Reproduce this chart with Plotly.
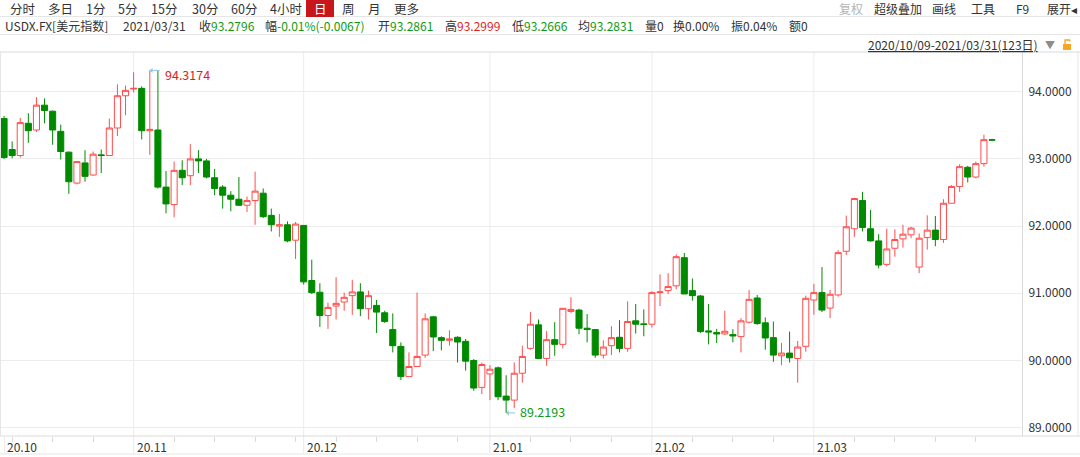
import plotly.graph_objects as go
import pandas as pd

# ---------------- data ----------------
dates = pd.bdate_range("2020-10-09", "2021-03-31")
dates = dates[dates != pd.Timestamp("2021-01-01")]  # 123 trading days

opens = [93.60, 93.14, 93.05, 93.53, 93.43, 93.80, 93.71, 93.41, 93.10, 92.64,
         92.94, 92.76, 93.06, 93.05, 93.46, 93.94, 94.04, 94.05, 93.42, 93.43,
         92.58, 92.32, 92.83, 92.75, 93.00, 92.97, 92.72, 92.58, 92.46, 92.40,
         92.31, 92.38, 92.49, 92.16, 92.00, 92.02, 91.79, 92.01, 91.19, 91.015,
         90.67, 90.81, 90.87, 90.965, 91.02, 90.77, 90.82, 90.71, 90.46, 90.21,
         89.76, 89.91, 90.08, 90.65, 90.34, 90.30, 90.345, 90.285, 90.00, 89.60,
         89.80, 89.89, 89.47, 89.41, 89.81, 90.18, 90.53, 90.03, 90.31, 90.24,
         90.73, 90.75, 90.48, 90.46, 90.08, 90.22, 90.345, 90.18, 90.59, 90.545,
         90.54, 91.01, 91.04, 91.11, 91.53, 91.04, 90.96, 90.44, 90.415, 90.395,
         90.385, 90.355, 90.57, 90.93, 90.56, 90.34, 90.07, 90.11, 90.03, 90.21,
         90.90, 91.01, 90.78, 90.975, 91.625, 91.96, 92.38, 91.96, 91.78, 91.43,
         91.67, 91.81, 91.87, 91.39, 91.83, 91.94, 91.80, 92.34, 92.59, 92.875,
         92.73, 92.93, 93.2861]
highs = [93.64, 93.26, 93.61, 93.68, 93.92, 93.90, 93.72, 93.51, 93.11, 92.97,
         93.13, 93.11, 93.14, 93.60, 94.11, 94.09, 94.29, 94.08, 94.3174, 94.31,
         92.82, 92.96, 92.98, 93.22, 93.13, 93.00, 92.85, 92.61, 92.52, 92.73,
         92.44, 92.81, 92.56, 92.26, 92.18, 92.07, 92.06, 92.01, 91.50, 91.15,
         90.86, 91.24, 91.01, 91.20, 91.15, 91.04, 90.90, 90.74, 90.70, 90.27,
         90.12, 91.01, 90.70, 90.66, 90.36, 90.45, 90.36, 90.32, 90.02, 89.97,
         89.93, 89.91, 89.78, 89.97, 90.22, 90.72, 90.61, 90.44, 90.57, 90.78,
         90.94, 90.77, 90.69, 90.465, 90.30, 90.51, 90.60, 90.88, 90.84, 90.76,
         91.03, 91.28, 91.30, 91.58, 91.60, 91.22, 90.975, 90.84, 90.47, 90.74,
         90.465, 90.63, 91.05, 90.975, 90.64, 90.58, 90.26, 90.43, 90.29, 90.965,
         91.14, 91.39, 91.05, 91.64, 92.155, 92.42, 92.51, 92.24, 91.88, 91.96,
         91.95, 92.02, 91.99, 91.89, 92.16, 92.15, 92.40, 92.61, 92.92, 92.895,
         92.96, 93.36, 93.2999]
lows = [93.00, 93.01, 93.02, 93.24, 93.40, 93.53, 93.21, 92.99, 92.48, 92.62,
        92.66, 92.75, 92.79, 93.05, 93.34, 93.65, 93.99, 93.29, 93.06, 92.56,
        92.19, 92.13, 92.61, 92.61, 92.79, 92.71, 92.46, 92.26, 92.22, 92.30,
        92.21, 92.02, 92.12, 91.92, 91.84, 91.76, 91.51, 91.13, 90.99, 90.50,
        90.47, 90.61, 90.74, 90.68, 90.66, 90.61, 90.41, 90.56, 90.12, 89.71,
        89.76, 89.91, 90.04, 90.14, 90.15, 90.22, 89.97, 89.85, 89.55, 89.50,
        89.41, 89.41, 89.2193, 89.29, 89.67, 90.16, 90.02, 89.92, 90.07, 90.18,
        90.71, 90.39, 90.27, 90.04, 90.03, 90.08, 90.12, 90.13, 90.40, 90.36,
        90.49, 90.81, 90.99, 91.06, 90.99, 90.89, 90.41, 90.24, 90.26, 90.38,
        90.27, 90.12, 90.55, 90.53, 90.16, 89.98, 89.93, 89.97, 89.67, 90.13,
        90.68, 90.72, 90.63, 90.95, 91.57, 91.84, 91.92, 91.77, 91.37, 91.40,
        91.545, 91.68, 91.82, 91.30, 91.65, 91.70, 91.75, 92.34, 92.51, 92.65,
        92.71, 92.885, 93.2666]
closes = [93.02, 93.05, 93.54, 93.42, 93.80, 93.72, 93.43, 93.11, 92.66, 92.96,
          92.74, 93.07, 93.05, 93.46, 93.94, 94.02, 94.05, 93.42, 93.44, 92.58,
          92.33, 92.83, 92.72, 93.00, 92.97, 92.73, 92.56, 92.46, 92.40, 92.31,
          92.38, 92.52, 92.14, 92.02, 92.02, 91.78, 92.03, 91.17, 91.01, 90.67,
          90.79, 90.85, 90.94, 91.02, 90.77, 90.965, 90.72, 90.58, 90.22, 89.76,
          89.91, 90.06, 90.62, 90.35, 90.30, 90.32, 90.275, 89.99, 89.59, 89.94,
          89.87, 89.46, 89.41, 89.81, 90.06, 90.54, 90.03, 90.31, 90.24, 90.776,
          90.76, 90.48, 90.46, 90.08, 90.20, 90.34, 90.18, 90.58, 90.54, 90.535,
          91.01, 91.02, 91.10, 91.545, 90.99, 90.965, 90.43, 90.425, 90.395, 90.435,
          90.365, 90.59, 90.91, 90.55, 90.335, 90.08, 90.11, 90.04, 90.20, 90.925,
          91.01, 90.75, 90.985, 91.605, 91.99, 92.41, 91.98, 91.78, 91.42, 91.66,
          91.80, 91.88, 91.97, 91.82, 91.94, 91.80, 92.34, 92.59, 92.885, 92.73,
          92.93, 93.2863, 93.2796]

y_ticks = [89, 90, 91, 92, 93, 94]
y_tick_labels = ["89.0000", "90.0000", "91.0000", "92.0000", "93.0000", "94.0000"]
month_labels = ["20.10", "20.11", "20.12", "21.01", "21.02", "21.03"]

# --------------- derived ---------------
idx = list(range(len(dates)))
month_start = []
prev = None
for i, d in enumerate(dates):
    key = (d.year, d.month)
    if key != prev:
        month_start.append(i)
        prev = key
mondays = [i for i, d in enumerate(dates) if d.weekday() == 0 and i not in month_start]
hi_i = highs.index(max(highs))
lo_i = lows.index(min(lows))

RED = "#ff4d4d"
GREEN = "#008a00"
FONT = "Noto Sans CJK SC, Microsoft YaHei, sans-serif"
GRID = "#ececec"
LINE = "#dadada"

W, H = 1080, 457
L_M, R_M, T_M, B_M = 0, 58, 52, 21
PW = W - L_M - R_M
PH = H - T_M - B_M


def px(x):
    return (x - L_M) / PW


def py(y):
    return (H - B_M - y) / PH


fig = go.Figure(go.Candlestick(
    x=idx, open=opens, high=highs, low=lows, close=closes,
    increasing=dict(line=dict(color=RED, width=1), fillcolor="white"),
    decreasing=dict(line=dict(color=GREEN, width=1), fillcolor=GREEN),
    whiskerwidth=0, hoverinfo="skip", showlegend=False,
))

shapes = []
# month gridlines (extend into the label strip)
for m in month_start[1:]:
    shapes.append(dict(type="line", xref="x", yref="paper", x0=m, x1=m,
                       y0=py(453), y1=1, line=dict(color=GRID, width=1), layer="below"))
# horizontal separators
for yy, c in [(16.5, "#e6e6e6"), (34.5, "#e6e6e6"), (52, LINE), (436, LINE), (454, "#e6e6e6")]:
    shapes.append(dict(type="line", xref="paper", yref="paper", x0=0, x1=px(W),
                       y0=py(yy), y1=py(yy), line=dict(color=c, width=1)))
# left border and scroll edge
shapes.append(dict(type="line", xref="paper", yref="paper", x0=px(0.5), x1=px(0.5),
                   y0=0, y1=1, line=dict(color="#e6e6e6", width=1)))
shapes.append(dict(type="line", xref="paper", yref="paper", x0=px(1078), x1=px(1078),
                   y0=0, y1=1, line=dict(color="#e6e6e6", width=1)))
# selected "日" tab
shapes.append(dict(type="rect", xref="paper", yref="paper", x0=px(306), x1=px(334),
                   y0=py(17), y1=py(0), fillcolor="#c8161d", line=dict(width=0)))
# lock icon
shapes.append(dict(type="rect", xref="paper", yref="paper", x0=px(1063), x1=px(1071),
                   y0=py(50), y1=py(44), fillcolor="#f5a623", line=dict(width=0)))
shapes.append(dict(type="path", xref="paper", yref="paper",
                   path=f"M {px(1065)} {py(44)} L {px(1065)} {py(40)} L {px(1069.5)} {py(40)} L {px(1070)} {py(41.5)}",
                   line=dict(color="#f5a623", width=1.3)))

ann = []


def T(x, y, text, color="#333333", size=12, anchor="left"):
    ann.append(dict(x=px(x), y=py(y), xref="paper", yref="paper", text=text,
                    showarrow=False, xanchor=anchor, yanchor="middle",
                    font=dict(family=FONT, size=size, color=color)))


def S(text, color):
    return f"<span style='color:{color}'>{text}</span>"


# toolbar row
for x, t in [(8, "分时"), (46, "多日"), (84, "1分"), (116, "5分"), (149, "15分"),
             (190, "30分"), (229, "60分"), (268, "4小时"), (340, "周"), (366, "月"), (392, "更多")]:
    T(x, 9, t, "#333333", 12.5)
T(320, 9, "日", "white", 12.5, "center")
T(837, 9, "复权", "#b4b4b4", 12)
for x, t in [(872, "超级叠加"), (930, "画线"), (969, "工具"), (1014, "F9"), (1045, "展开◂")]:
    T(x, 9, t, "#333333", 12)

# quote row
G2 = "#119a11"
R2 = "#e01e1e"
for x, t in [(3, "USDX.FX[美元指数]"), (121, "2021/03/31"),
             (197, "收" + S("93.2796", G2)),
             (263, "幅" + S("-0.01%(-0.0067)", G2)),
             (376, "开" + S("93.2861", G2)),
             (443, "高" + S("93.2999", R2)),
             (510, "低" + S("93.2666", G2)),
             (576, "均" + S("93.2831", G2)),
             (643, "量0"), (671, "换0.00%"), (729, "振0.04%"), (787, "额0")]:
    T(x, 25, t, "#333333", 12)

# range row
T(866, 44, "<u>2020/10/09-2021/03/31(123日)</u>", "#333333", 12)
T(1043, 44, "▼", "#8c8c8c", 10)

# month labels
for m, lab in zip(month_start, month_labels):
    ann.append(dict(x=m, y=py(446), xref="x", yref="paper", text=lab, showarrow=False,
                    xanchor="left", yanchor="middle", xshift=1,
                    font=dict(family=FONT, size=12, color="#333333")))

# extreme markers
ARROW = "#8fc3e3"
ann.append(dict(x=hi_i, y=highs[hi_i], xref="x", yref="y", text=" ", showarrow=True,
                ax=13, ay=0, axref="pixel", ayref="pixel", arrowhead=1, arrowsize=0.9,
                arrowwidth=1, arrowcolor=ARROW, standoff=0))
ann.append(dict(x=hi_i, y=highs[hi_i], xref="x", yref="y", text=f"{highs[hi_i]:.4f}",
                showarrow=False, xanchor="left", yanchor="middle", xshift=13, yshift=-4,
                font=dict(family=FONT, size=12.5, color=R2)))
ann.append(dict(x=lo_i, y=lows[lo_i], xref="x", yref="y", text=" ", showarrow=True,
                ax=12, ay=0, axref="pixel", ayref="pixel", arrowhead=1, arrowsize=0.9,
                arrowwidth=1, arrowcolor=ARROW, standoff=0))
ann.append(dict(x=lo_i, y=lows[lo_i], xref="x", yref="y", text=f"{lows[lo_i]:.4f}",
                showarrow=False, xanchor="left", yanchor="middle", xshift=12, yshift=1,
                font=dict(family=FONT, size=12.5, color=G2)))

fig.update_layout(
    width=W, height=H,
    margin=dict(l=L_M, r=R_M, t=T_M, b=B_M, pad=0),
    paper_bgcolor="white", plot_bgcolor="white",
    font=dict(family=FONT, size=12, color="#333333"),
    boxgap=0.25, boxgroupgap=0,
    shapes=shapes, annotations=ann,
    showlegend=False, hovermode=False,
    xaxis=dict(range=[-0.5, 125.7], rangeslider=dict(visible=False),
               tickvals=month_start, showticklabels=False, ticks="outside", ticklen=16,
               tickcolor=GRID, showgrid=False, zeroline=False, showline=False,
               minor=dict(tickvals=mondays, ticks="outside", ticklen=5, tickcolor="#d8d8d8",
                          showgrid=False),
               fixedrange=True),
    yaxis=dict(side="right", range=[88.876, 94.591], tickvals=y_ticks, ticktext=y_tick_labels,
               showgrid=True, gridcolor=GRID, gridwidth=1, zeroline=False,
               showline=True, linecolor=LINE, linewidth=1, ticks="",
               tickfont=dict(family=FONT, size=12, color="#333333"),
               ticklabelstandoff=3, fixedrange=True),
)

fig.write_html("out.html", config={"displayModeBar": False, "staticPlot": True},
               post_script="document.body.style.margin='0px';document.body.style.overflow='hidden';")
